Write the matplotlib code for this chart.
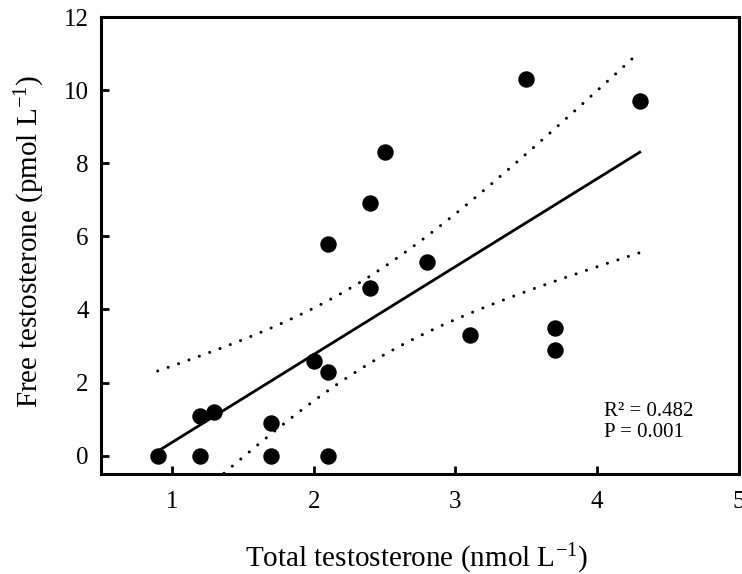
import numpy as np
import matplotlib
matplotlib.use("Agg")
import matplotlib.pyplot as plt

plt.rcParams['font.family'] = ['Liberation Serif', 'DejaVu Serif']
plt.rcParams['mathtext.fontset'] = 'custom'
plt.rcParams['mathtext.rm'] = 'Liberation Serif'
plt.rcParams['mathtext.it'] = 'Liberation Serif:italic'

# Data
total_t = [0.9, 1.2, 1.2, 1.3, 1.7, 1.7, 2.0, 2.1, 2.1, 2.1,
           2.4, 2.4, 2.5, 2.8, 3.1, 3.5, 3.7, 3.7, 4.3]
free_t = [0.0, 1.1, 0.0, 1.2, 0.9, 0.0, 2.6, 5.8, 2.3, 0.0,
          6.9, 4.6, 8.3, 5.3, 3.3, 10.3, 3.5, 2.9, 9.7]
x_ticks = [1, 2, 3, 4, 5]
y_ticks = [0, 2, 4, 6, 8, 10, 12]
annot = "R\u00b2 = 0.482\nP = 0.001"
T_CRIT = 2.110  # t(0.975, df=17)

x = np.array(total_t)
y = np.array(free_t)
n = len(x)
slope, intercept = np.polyfit(x, y, 1)
xf = np.linspace(x.min(), x.max(), 200)
yf = intercept + slope * xf
resid = y - (intercept + slope * x)
s = np.sqrt(np.sum(resid ** 2) / (n - 2))
sxx = np.sum((x - x.mean()) ** 2)
se = s * np.sqrt(1.0 / n + (xf - x.mean()) ** 2 / sxx)
upper = yf + T_CRIT * se
lower = yf - T_CRIT * se

fig = plt.figure(figsize=(7.42, 5.74), dpi=100)
ax = fig.add_axes([101 / 742, 100 / 574, 638 / 742, 457 / 574])

ax.plot(xf, yf, color='black', lw=2.0, zorder=2)
dot = (0, (0.01, 3.6))
ax.plot(xf, upper, color='black', lw=2.2, linestyle=dot, dash_capstyle='round', zorder=2)
ax.plot(xf, lower, color='black', lw=2.2, linestyle=dot, dash_capstyle='round', zorder=2)
ax.scatter(x, y, s=140, color='black', zorder=3, linewidths=0)

ax.set_xlim(0.5, 5.0)
ax.set_ylim(-0.5, 12)
ax.set_xticks(x_ticks)
ax.set_yticks(y_ticks)
ax.tick_params(axis='both', direction='in', length=6, width=2, labelsize=18,
               colors='black')
ax.tick_params(axis='x', pad=12)
ax.tick_params(axis='y', pad=9)
for sp in ax.spines.values():
    sp.set_linewidth(2.2)
    sp.set_color('black')

ax.set_xlabel(r"Total testosterone (nmol L$^{\mathregular{-1}}$)", fontsize=21)
ax.set_ylabel(r"Free testosterone (pmol L$^{\mathregular{-1}}$)", fontsize=21)
ax.xaxis.set_label_coords(0.495, -0.149)
ax.yaxis.set_label_coords(-0.085, 0.508)

ax.text(4.05, 0.92, annot, fontsize=15, ha='left', va='center', linespacing=1.1)

fig.savefig("out.png", dpi=100)
